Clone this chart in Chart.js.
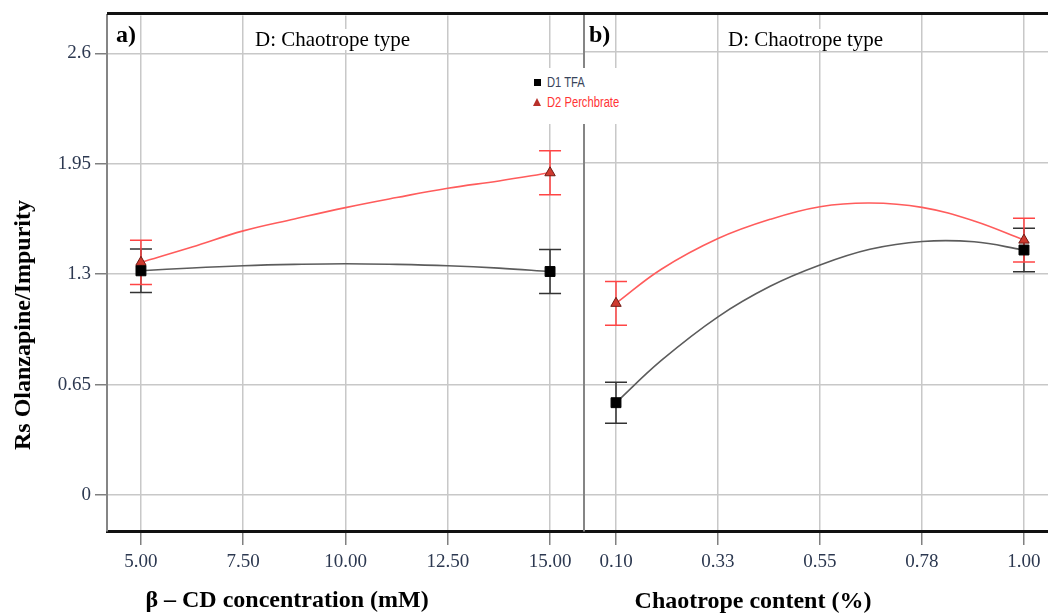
<!DOCTYPE html>
<html>
<head>
<meta charset="utf-8">
<title>Rs Olanzapine/Impurity – interaction plots</title>
<script src="https://cdn.jsdelivr.net/npm/chart.js@4.4.1/dist/chart.umd.min.js"></script>
<style>
  html, body { margin: 0; padding: 0; background: #fff; }
  #wrap { position: relative; width: 1048px; height: 613px; overflow: hidden; }
  canvas { position: absolute; top: 0; }
  #cvA { left: 0; }
  #cvB { left: 580px; }
  .serif { font-family: 'Liberation Serif', 'Times New Roman', serif; color: #000; position: absolute; white-space: nowrap; }
  .bold { font-weight: bold; font-size: 24px; line-height: 24px; }
  .head { font-size: 21px; line-height: 21px; background: #fff; padding: 0 2px; }
  #topLine { position: absolute; left: 107px; top: 12px; width: 941px; height: 3px; background: #111; }
  #legend { position: absolute; left: 530px; top: 68px; width: 100px; height: 56px; background: #fff;
            font-family: 'Liberation Sans', Arial, sans-serif; font-size: 14px; }
  #legend .row { position: absolute; left: 0; width: 100px; height: 16px; line-height: 16px; white-space: nowrap; }
  #legend .sq { position: absolute; left: 4px; top: 5px; width: 7px; height: 7px; background: #000; }
  #legend .tri { position: absolute; left: 3px; top: 4px; width: 0; height: 0;
                 border-left: 4px solid transparent; border-right: 4px solid transparent; border-bottom: 8px solid #b8302a; }
  #legend .txt { position: absolute; left: 17px; top: 0; transform: scaleX(0.8); transform-origin: left center; }
</style>
</head>
<body>
<div id="wrap">
  <canvas id="cvA" width="584" height="613"></canvas>
  <canvas id="cvB" width="468" height="613"></canvas>

  <div id="topLine"></div>
  <div class="serif bold" style="left:116px; top:22px;">a)</div>
  <div class="serif bold" style="left:589px; top:22px;">b)</div>
  <div class="serif head" style="left:253px; top:29px;">D: Chaotrope type</div>
  <div class="serif head" style="left:726px; top:29px;">D: Chaotrope type</div>

  <div id="legend">
    <div class="row" style="top:6px;"><span class="sq"></span><span class="txt" style="color:#38445a;">D1 TFA</span></div>
    <div class="row" style="top:26px;"><span class="tri"></span><span class="txt" style="color:#ff3434;">D2 Perchbrate</span></div>
  </div>

  <div class="serif bold" style="left:22px; top:325px; transform: translate(-50%, -50%) rotate(-90deg);">Rs Olanzapine/Impurity</div>
  <div class="serif bold" style="left:287px; top:587px; transform: translateX(-50%);">β – CD concentration (mM)</div>
  <div class="serif bold" style="left:753px; top:588px; transform: translateX(-50%);">Chaotrope content (%)</div>
</div>

<script>
/* ---------- Data ---------- */
const yTicks = [0, 0.65, 1.3, 1.95, 2.6];
const yTickLabels = ['0', '0.65', '1.3', '1.95', '2.6'];

// a) beta-CD concentration (mM)
const cdTicks = [5, 7.5, 10, 12.5, 15];
const cdTickLabels = ['5.00', '7.50', '10.00', '12.50', '15.00'];
const cdPoints = [5, 15];
const tfaCdMean = [1.32, 1.316];
const tfaCdErr = [0.128, 0.13];
const perCdMean = [1.37, 1.897];
const perCdErr = [0.13, 0.13];
const cdCurveX = [5, 6.25, 7.5, 8.75, 10, 11.25, 12.5, 13.75, 15];
const tfaCdCurve = [1.32, 1.337, 1.35, 1.358, 1.362, 1.358, 1.35, 1.336, 1.316];
const perCdCurve = [1.37, 1.46, 1.555, 1.625, 1.692, 1.751, 1.806, 1.849, 1.897];

// b) chaotrope content (%)
const chTicks = [0.1, 0.325, 0.55, 0.775, 1.0];
const chTickLabels = ['0.10', '0.33', '0.55', '0.78', '1.00'];
const chPoints = [0.1, 1.0];
const tfaChMean = [0.542, 1.438];
const tfaChErr = [0.12, 0.127];
const perChMean = [1.125, 1.496];
const perChErr = [0.128, 0.128];
const chCurveX = [0.1, 0.2, 0.325, 0.44, 0.55, 0.66, 0.775, 0.89, 1.0];
const tfaChCurve = [0.542, 0.79, 1.046, 1.225, 1.35, 1.442, 1.488, 1.486, 1.438];
const perChCurve = [1.125, 1.325, 1.505, 1.618, 1.692, 1.714, 1.688, 1.608, 1.496];

/* ---------- Styles ---------- */
const COLORS = {
  tfaLine: '#5c5c5c',
  tfaBar: '#333333',
  perLine: '#ff5c5c',
  perBar: '#ff4545',
  perFill: '#cf3a2f',
  perEdge: '#6e1c16',
  grid: '#c8c8c8',
  tick: '#808080',
  label: '#2c3850'
};
const TICK_FONT = { family: "'Liberation Serif', 'Times New Roman', serif", size: 19 };

const toXY = (xs, ys) => xs.map((x, i) => ({ x: x, y: ys[i] }));

// Error bars drawn from the dataset's own errors array through the chart scales
const errorBars = {
  id: 'errorBars',
  beforeDatasetsDraw(chart) {
    const { ctx, scales: { x, y } } = chart;
    chart.data.datasets.forEach(ds => {
      if (!ds.errors) return;
      ctx.save();
      ctx.strokeStyle = ds.errorColor;
      ctx.lineWidth = 1.5;
      ds.data.forEach((p, i) => {
        const px = x.getPixelForValue(p.x);
        const top = y.getPixelForValue(p.y + ds.errors[i]);
        const bot = y.getPixelForValue(p.y - ds.errors[i]);
        ctx.beginPath();
        ctx.moveTo(px, top); ctx.lineTo(px, bot);
        ctx.moveTo(px - 11, top); ctx.lineTo(px + 11, top);
        ctx.moveTo(px - 11, bot); ctx.lineTo(px + 11, bot);
        ctx.stroke();
      });
      ctx.restore();
    });
  }
};

/* ---------- Panel ---------- */
function createPanel(canvasId, cfg) {
  const ctx = document.getElementById(canvasId);
  if (!ctx) return null;

  return new Chart(ctx, {
    type: 'scatter',
    data: {
      datasets: [
        {
          data: toXY(cfg.points, cfg.tfaMean),
          errors: cfg.tfaErr,
          errorColor: COLORS.tfaBar,
          pointStyle: 'rect',
          pointRadius: 7,
          backgroundColor: '#000',
          borderColor: '#000',
          borderWidth: 1
        },
        {
          data: toXY(cfg.points, cfg.perMean),
          errors: cfg.perErr,
          errorColor: COLORS.perBar,
          pointStyle: 'triangle',
          pointRadius: 6,
          backgroundColor: COLORS.perFill,
          borderColor: COLORS.perEdge,
          borderWidth: 1
        },
        {
          data: toXY(cfg.curveX, cfg.tfaCurve),
          showLine: true,
          pointRadius: 0,
          borderColor: COLORS.tfaLine,
          borderWidth: 1.6,
          tension: 0.4
        },
        {
          data: toXY(cfg.curveX, cfg.perCurve),
          showLine: true,
          pointRadius: 0,
          borderColor: COLORS.perLine,
          borderWidth: 1.6,
          tension: 0.4
        }
      ]
    },
    options: {
      responsive: false,
      animation: false,
      devicePixelRatio: 1,
      layout: { autoPadding: false, padding: { top: 14, left: cfg.padLeft, right: 0, bottom: 0 } },
      plugins: {
        legend: { display: false },
        tooltip: { enabled: false }
      },
      scales: {
        x: {
          type: 'linear',
          min: cfg.xMin,
          max: cfg.xMax,
          afterBuildTicks: ax => { ax.ticks = cfg.ticks.map(v => ({ value: v })); },
          afterFit: s => { s.height = 82; },
          grid: { color: COLORS.grid, lineWidth: 1.5, tickLength: 14, tickColor: COLORS.tick, tickWidth: 1.5 },
          border: { color: '#111', width: 3 },
          ticks: {
            autoSkip: false,
            maxRotation: 0,
            padding: 6,
            color: COLORS.label,
            font: TICK_FONT,
            callback: (v, i) => cfg.tickLabels[i]
          }
        },
        y: {
          min: -0.211,
          max: 2.823,
          afterBuildTicks: ax => { ax.ticks = yTicks.map(v => ({ value: v })); },
          afterFit: s => { s.width = cfg.showY ? 107 : 0; },
          grid: {
            color: COLORS.grid,
            lineWidth: 1.5,
            drawTicks: cfg.showY,
            tickLength: 12,
            tickColor: COLORS.tick,
            tickWidth: 1.5
          },
          border: { color: '#858585', width: 2 },
          ticks: {
            display: cfg.showY,
            padding: 4,
            color: COLORS.label,
            font: TICK_FONT,
            callback: (v, i) => yTickLabels[i]
          }
        }
      }
    },
    plugins: [errorBars]
  });
}

createPanel('cvA', {
  points: cdPoints, tfaMean: tfaCdMean, tfaErr: tfaCdErr, perMean: perCdMean, perErr: perCdErr,
  curveX: cdCurveX, tfaCurve: tfaCdCurve, perCurve: perCdCurve,
  ticks: cdTicks, tickLabels: cdTickLabels,
  xMin: 4.17, xMax: 15.83, padLeft: 0, showY: true
});

createPanel('cvB', {
  points: chPoints, tfaMean: tfaChMean, tfaErr: tfaChErr, perMean: perChMean, perErr: perChErr,
  curveX: chCurveX, tfaCurve: tfaChCurve, perCurve: perChCurve,
  ticks: chTicks, tickLabels: chTickLabels,
  xMin: 0.0294, xMax: 1.053, padLeft: 4, showY: false
});
</script>
</body>
</html>
